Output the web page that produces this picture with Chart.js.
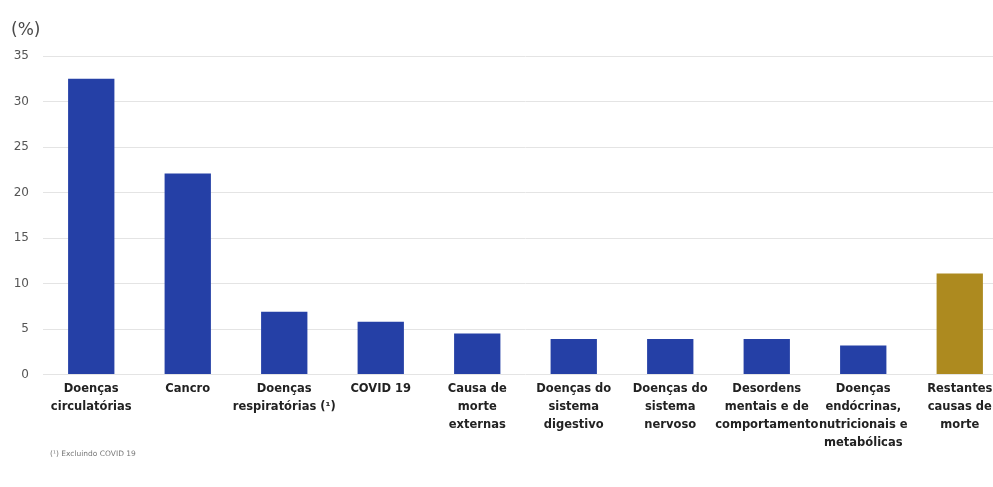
<!DOCTYPE html>
<html>
<head>
<meta charset="utf-8">
<script src="https://cdn.jsdelivr.net/npm/chart.js@4"></script>
<style>
  html, body { margin: 0; padding: 0; background: #fff; overflow: hidden; }
  #wrap { position: relative; width: 1008px; height: 487px; }
</style>
</head>
<body>
<div id="wrap"><canvas id="causesChart"></canvas></div>
<script>
const CATEGORIES = [
    ['Doenças', 'circulatórias'],
    ['Cancro'],
    ['Doenças', 'respiratórias (¹)'],
    ['COVID 19'],
    ['Causa de', 'morte', 'externas'],
    ['Doenças do', 'sistema', 'digestivo'],
    ['Doenças do', 'sistema', 'nervoso'],
    ['Desordens', 'mentais e de', 'comportamento'],
    ['Doenças', 'endócrinas,', 'nutricionais e', 'metabólicas'],
    ['Restantes', 'causas de', 'morte']
];
const VALUES = [32.5, 22.1, 6.9, 5.8, 4.5, 3.9, 3.9, 3.9, 3.2, 11.1];
const Y_TICKS = [0, 5, 10, 15, 20, 25, 30, 35];
const UNIT_LABEL = '(%)';
const FOOTNOTE = '(¹) Excluindo COVID 19';

const BLUE = '#2540a6';
const GOLD = '#ad8a1f';
const barColors = CATEGORIES.map((c, i) => i === CATEGORIES.length - 1 ? GOLD : BLUE);

// unit label at top-left and footnote under the axis
const extraText = {
    id: 'extraText',
    afterDraw(chart) {
        const ctx = chart.ctx;
        ctx.save();
        ctx.fillStyle = '#4a4a4a';
        ctx.textAlign = 'left';
        ctx.textBaseline = 'middle';
        ctx.font = '17px "DejaVu Sans"';
        ctx.fillText(UNIT_LABEL, 11, 31);
        ctx.fillStyle = '#777';
        ctx.font = '7.5px "DejaVu Sans"';
        ctx.fillText(FOOTNOTE, 50, 454);
        ctx.restore();
    }
};

const causesCtx = document.getElementById('causesChart').getContext('2d');
const causesChart = new Chart(causesCtx, {
    type: 'bar',
    data: {
        labels: CATEGORIES,
        datasets: [{
            data: VALUES,
            backgroundColor: barColors,
            borderWidth: 0,
            barPercentage: 0.48,
            categoryPercentage: 1
        }]
    },
    options: {
        responsive: true,
        maintainAspectRatio: false,
        animation: false,
        layout: { padding: { top: 56, left: 0, right: 0, bottom: 0 } },
        plugins: {
            legend: { display: false },
            tooltip: { enabled: false }
        },
        scales: {
            x: {
                grid: { display: false, drawTicks: false },
                border: { display: false },
                ticks: {
                    maxRotation: 0,
                    autoSkip: false,
                    padding: 6,
                    color: '#222',
                    font: { family: 'DejaVu Sans', size: 11.5, weight: 'bold', lineHeight: 1.55 }
                },
                afterFit(scale) { scale.height = 487 - 56 - 318.5; }
            },
            y: {
                min: 0,
                max: 35,
                afterBuildTicks(scale) { scale.ticks = Y_TICKS.map(v => ({ value: v })); },
                grid: { color: '#e4e4e4', lineWidth: 1, drawTicks: false },
                border: { display: false },
                ticks: {
                    padding: 14,
                    color: '#555',
                    font: { family: 'DejaVu Sans', size: 12 }
                },
                afterFit(scale) { scale.width = 43; }
            }
        }
    },
    plugins: [extraText]
});
</script>
</body>
</html>
